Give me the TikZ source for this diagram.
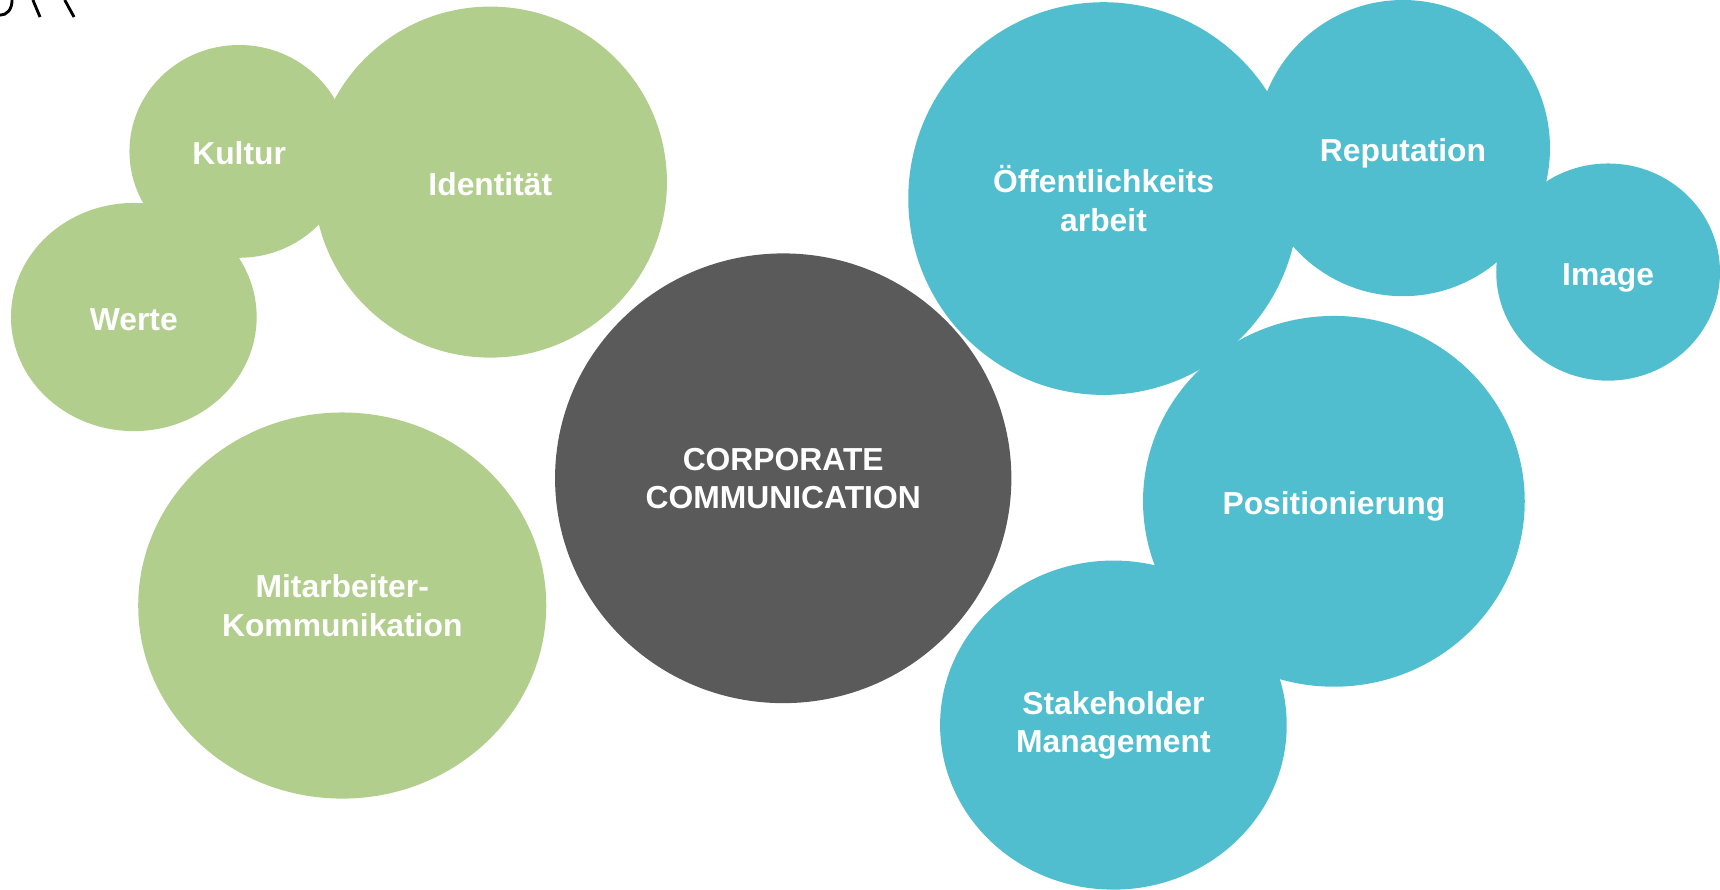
\documentclass[tikz,border=0pt]{standalone}
\usepackage{fontspec}
\setmainfont{Liberation Sans}
\usetikzlibrary{shapes.geometric}
\definecolor{bgreen}{HTML}{B2CE8D}
\definecolor{bblue}{HTML}{50BECE}
\definecolor{bdark}{HTML}{5A5A5A}
\tikzset{
  bubble/.style={ellipse, inner sep=0pt, outer sep=0pt, draw=none, text=white,
    align=center, font=\fontsize{14.5}{17.5}\selectfont\bfseries},
  oneline/.style={text height=12.3pt, text depth=0pt},
  greenbubble/.style={bubble, fill=bgreen},
  bluebubble/.style={bubble, fill=bblue},
  darkbubble/.style={bubble, fill=bdark},
  fragment/.style={line width=1.3pt, black}
}
\begin{document}
\begin{tikzpicture}[x=0.5pt, y=-0.5pt]
\useasboundingbox (0,0) rectangle (1568,811);
% cut-off fragment at the top left
\draw[fragment] (11,0) .. controls (11,9) and (6,13.8) .. (0,13.8);
\draw[fragment] (30,0) -- (36.5,15.5);
\draw[fragment] (59,0) -- (67.5,15.5);
% green bubbles
\node[greenbubble, oneline, minimum width=161pt, minimum height=160pt] (identitaet) at (447,166) {Identität};
\node[greenbubble, oneline, minimum width=100pt, minimum height=97pt] (kultur) at (218,138) {Kultur};
\node[greenbubble, oneline, minimum width=112pt, minimum height=104pt] (werte) at (122,289) {Werte};
\node[greenbubble, minimum width=186pt, minimum height=176pt] (mitarbeiter) at (312,552) {Mitarbeiter-\\Kommunikation};
% centre
\node[darkbubble, minimum width=208pt, minimum height=205pt] (corp) at (714,436) {CORPORATE\\COMMUNICATION};
% blue bubbles
\node[bluebubble, oneline, minimum width=134pt, minimum height=135pt] (reputation) at (1279,135) {Reputation};
\node[bluebubble, oneline, minimum width=102pt, minimum height=99pt] (image) at (1466,248) {Image};
\node[bluebubble, minimum width=178pt, minimum height=179pt] (oeff) at (1006,181) {Öffentlichkeits\\arbeit};
\node[bluebubble, oneline, minimum width=174pt, minimum height=169pt] (position) at (1216,457) {Positionierung};
\node[bluebubble, minimum width=158pt, minimum height=150pt] (stake) at (1015,661) {Stakeholder\\Management};
\end{tikzpicture}
\end{document}
